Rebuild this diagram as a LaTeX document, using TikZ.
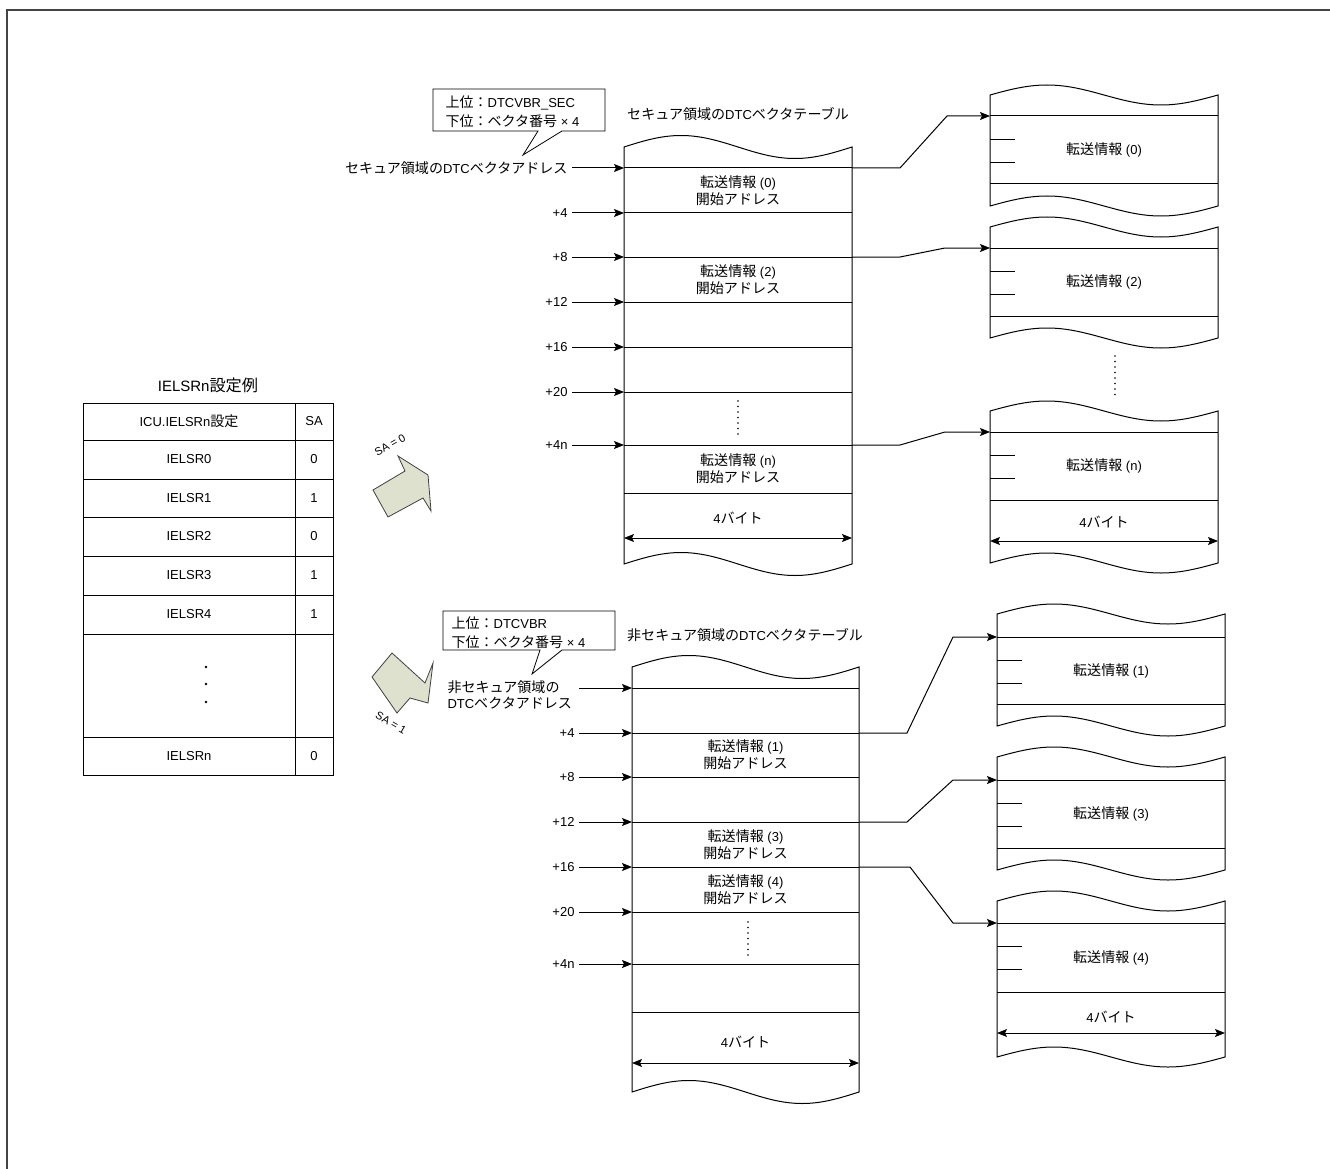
\documentclass[tikz,border=0pt]{standalone}
\usepackage{fontspec}
\setmainfont{Liberation Sans}
\newfontfamily\jp{Noto Sans CJK JP}[Scale=1.08]
\usepackage{tikz}
\usetikzlibrary{arrows.meta,positioning}

\definecolor{arrowfill}{RGB}{221,225,206}
\definecolor{framegray}{RGB}{68,68,68}

\newcommand\tapebox[5]{%
  \draw (#1,#2) sin ++(#3/4,-#5) cos ++(#3/4,#5) sin ++(#3/4,#5) cos ++(#3/4,-#5)
    -- ++(0,#4-#2) sin ++(-#3/4,#5) cos ++(-#3/4,-#5) sin ++(-#3/4,-#5) cos ++(-#3/4,#5) -- cycle;}
\newcommand\tenso[1]{{\jp 転送情報} (#1)}
\newcommand\kaishi{{\jp 開始アドレス}}
\newcommand\xferbox[7]{%
  \tapebox{#2}{#3}{228}{#6}{10}
  \coordinate (#1) at (#2,#4);
  \draw (#1) -- ++(228,0);
  \draw (#2,#5) -- ++(228,0);
  \draw[tickline] (#2,#4+23) -- ++(25,0) (#2,#4+46) -- ++(25,0);
  \node (#1txt) at (#2+114,#4/2+#5/2) {\tenso{#7}};}

\begin{document}
\begin{tikzpicture}[x=1pt,y=-1pt,line width=1pt,>={Stealth[length=10pt,width=8pt,inset=2pt]},
  font=\fontsize{13}{17}\selectfont,
  lbl/.style={inner sep=4pt},
  txt/.style={align=center,inner sep=0pt},
  tickline/.style={line width=0.8pt},
  dotcol/.style={line width=1.6pt,line cap=round,dash pattern=on 0pt off 5.5pt},
  blockarrow/.style={fill=arrowfill,draw=black!75,line width=0.8pt},
  callout/.style={draw,fill=white,line width=0.8pt},
  note/.style={anchor=west,align=left,inner sep=0pt,font=\fontsize{13}{19}\selectfont},
  salbl/.style={inner sep=0pt,font=\fontsize{11}{13}\selectfont}]
  \useasboundingbox (0,0) rectangle (1330,1169);
  \draw[framegray,line width=1.5pt] (7,1169) -- (7,10) -- (1330,10);

  % IELSRn table
  \node[font=\fontsize{15}{18}\selectfont] (tbltitle) at (208,385) {IELSRn{\jp 設定例}};
  \draw (83,403) rectangle (333,775);
  \draw (295,403) -- (295,775);
  \foreach \y in {440,479,517,556,595,634,737} \draw (83,\y) -- (333,\y);
  \node (hdreg) at (189,421.5) {ICU.IELSRn{\jp 設定}};
  \node (hdsa) at (314,421.5) {SA};
  \foreach \i/\v/\y in {0/0/459.5,1/1/498,2/0/536.5,3/1/575.5,4/1/614.5} {
    \node (reg\i) at (189,\y) {IELSR\i};
    \node (sa\i) at (314,\y) {\v};
  }
  \foreach \y in {667,684,702} \fill (206,\y) circle (1.4pt);
  \node (regn) at (189,756) {IELSRn};
  \node (san) at (314,756) {0};

  % block arrows
  \draw[blockarrow] (373,490) -- (405,471) -- (398,456) -- (428,475) -- (431,511) -- (423,498) -- (388,517) -- cycle;
  \node[salbl,rotate=30] (sa0lbl) at (390,445) {SA = 0};
  \draw[blockarrow] (372,677) -- (392,653) -- (425,683) -- (433,663) -- (428,703) -- (410,698) -- (397,713) -- cycle;
  \node[salbl,rotate=-30] (sa1lbl) at (391,723) {SA = 1};

  % secure vector table
  \draw[callout] (433,89) -- (605,89) -- (605,131) -- (562,131) -- (523,155) -- (538,131) -- (433,131) -- cycle;
  \node[note] (secnote) at (445,112) {{\jp 上位：}DTCVBR\_SEC\\{\jp 下位：ベクタ番号} × 4};
  \node (sectitle) at (738,114) {{\jp セキュア領域の}DTC{\jp ベクタテーブル}};
  \tapebox{624}{147}{228}{564}{11.5}
  \foreach \n/\y in {0/168,1/213,2/257,3/302,4/347,5/392,6/445} {
    \coordinate (sl\n) at (624,\y);
    \coordinate (sr\n) at (852,\y);
    \draw (sl\n) -- (sr\n);
  }
  \draw (624,493) -- (852,493);
  \node[lbl,left=52pt of sl0] (secaddr) {{\jp セキュア領域の}DTC{\jp ベクタアドレス}};
  \draw[->] (secaddr) -- (sl0);
  \foreach \n/\lab in {1/+4,2/+8,3/+12,4/+16,5/+20,6/+4n} {
    \node[lbl,left=52pt of sl\n] (so\n) {\lab};
    \draw[->] (so\n) -- (sl\n);
  }
  \node[txt] (sec0) at (738,190.5) {\tenso{0}\\\kaishi};
  \node[txt] (sec2) at (738,279.5) {\tenso{2}\\\kaishi};
  \node[txt] (secn) at (738,469) {\tenso{n}\\\kaishi};
  \draw[dotcol] (738,401) -- (738,438);
  \node (secw) at (738,518) {4{\jp バイト}};
  \draw[<->] (624,538) -- (852,538);

  % secure transfer info
  \xferbox{rb0}{990}{95}{116}{184}{206}{0}
  \xferbox{rb2}{990}{227}{248}{316}{338}{2}
  \xferbox{rbn}{990}{411}{432}{500}{563}{n}
  \draw[dotcol] (1115,356) -- (1115,398);
  \node (rbnw) at (1104,522) {4{\jp バイト}};
  \draw[<->] (990,541) -- (1218,541);
  \draw[->] (sr0) -- ++(48,0) -- ([xshift=-43pt]rb0) -- (rb0);
  \draw[->] (sr2) -- ++(48,0) -- ([xshift=-45pt]rb2) -- (rb2);
  \draw[->] (sr6) -- ++(48,0) -- ([xshift=-45pt]rbn) -- (rbn);

  % non-secure vector table
  \draw[callout] (443,611) -- (615,611) -- (615,650) -- (562,650) -- (532,674) -- (540,650) -- (443,650) -- cycle;
  \node[note] (nsecnote) at (451,633) {{\jp 上位：}DTCVBR\\{\jp 下位：ベクタ番号} × 4};
  \node (nsectitle) at (745,635) {{\jp 非セキュア領域の}DTC{\jp ベクタテーブル}};
  \tapebox{632}{667}{227}{1092}{11.5}
  \foreach \n/\y in {0/688,1/733,2/777,3/822,4/867,5/912,6/964} {
    \coordinate (nl\n) at (632,\y);
    \coordinate (nr\n) at (859,\y);
    \draw (nl\n) -- (nr\n);
  }
  \draw (632,1012) -- (859,1012);
  \node[note,font=\fontsize{13}{16}\selectfont] (nsecaddr) at (447,695) {{\jp 非セキュア領域の}\\DTC{\jp ベクタアドレス}};
  \coordinate (nsin) at (579,688);
  \draw[->] (nsin) -- (nl0);
  \foreach \n/\lab in {1/+4,2/+8,3/+12,4/+16,5/+20,6/+4n} {
    \node[lbl,left=53pt of nl\n] (no\n) {\lab};
    \draw[->] (no\n) -- (nl\n);
  }
  \node[txt] (nsec1) at (745.5,755) {\tenso{1}\\\kaishi};
  \node[txt] (nsec3) at (745.5,844.5) {\tenso{3}\\\kaishi};
  \node[txt] (nsec4) at (745.5,889.5) {\tenso{4}\\\kaishi};
  \draw[dotcol] (748,922) -- (748,958);
  \node (nsecw) at (745.5,1042) {4{\jp バイト}};
  \draw[<->] (632,1063) -- (859,1063);

  % non-secure transfer info
  \xferbox{nb1}{997}{614}{637}{704}{726}{1}
  \xferbox{nb3}{997}{757}{780}{848}{870}{3}
  \xferbox{nb4}{997}{901}{923}{992}{1057}{4}
  \node (nb4w) at (1111,1017) {4{\jp バイト}};
  \draw[<->] (997,1033) -- (1225,1033);
  \draw[->] (nr1) -- ++(48,0) -- ([xshift=-44pt]nb1) -- (nb1);
  \draw[->] (nr3) -- ++(48,0) -- ([xshift=-44pt]nb3) -- (nb3);
  \draw[->] (nr4) -- ++(51,0) -- ([xshift=-44pt]nb4) -- (nb4);
\end{tikzpicture}
\end{document}
